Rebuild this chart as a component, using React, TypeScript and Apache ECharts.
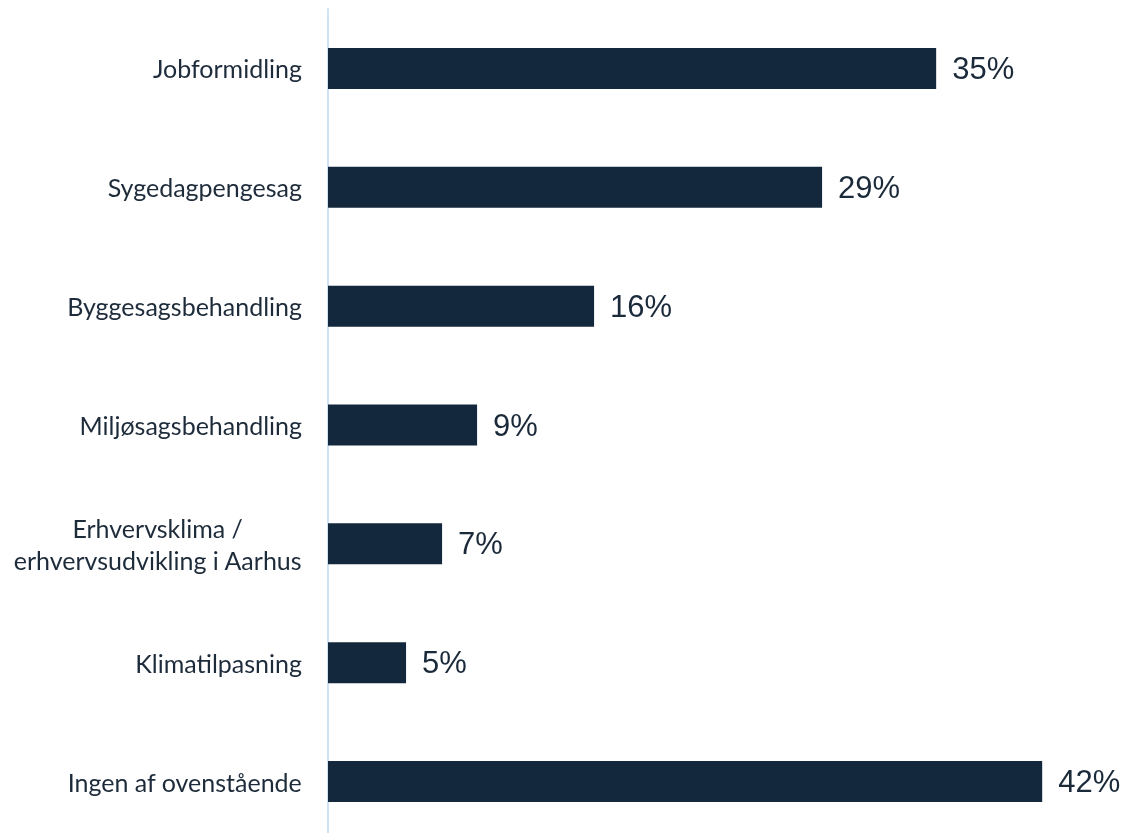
import React, { useEffect, useRef } from "react";
import * as echarts from "echarts";

const categories = [
  "Jobformidling",
  "Sygedagpengesag",
  "Byggesagsbehandling",
  "Miljøsagsbehandling",
  "Erhvervsklima /\nerhvervsudvikling i Aarhus",
  "Klimatilpasning",
  "Ingen af ovenstående",
];
const values = [35.45, 28.8, 15.51, 8.69, 6.65, 4.55, 41.63];

export default function App() {
  const ref = useRef<HTMLDivElement>(null);
  useEffect(() => {
    if (!ref.current) return;
    const chart = echarts.init(ref.current, undefined, { renderer: "svg" });
    chart.setOption({
      animation: false,
      grid: { left: 328, right: 33, top: 9, bottom: 0, containLabel: false },
      xAxis: {
        type: "value",
        min: 0,
        max: 45,
        show: false,
      },
      yAxis: {
        type: "category",
        data: categories,
        inverse: true,
        axisLine: { show: true, lineStyle: { color: "#cfe1f3", width: 2 } },
        axisTick: { show: false },
        splitLine: { show: false },
        axisLabel: {
          margin: 26,
          color: "#1d2b3a",
          fontFamily: "Lato",
          fontSize: 25,
          lineHeight: 32,
          formatter: (v: string) =>
            v
              .split("\n")
              .map((l) => `{c|${l}}`)
              .join("\n"),
          rich: {
            c: {
              align: "center",
              color: "#1d2b3a",
              fontFamily: "Lato",
              fontSize: 25,
              lineHeight: 32,
            },
          },
        },
      },
      series: [
        {
          type: "bar",
          data: values,
          barWidth: 41,
          itemStyle: { color: "#13283d" },
          label: {
            show: true,
            position: "right",
            distance: 16,
            color: "#1b2a3a",
            fontFamily: "Liberation Sans",
            fontSize: 31,
            formatter: (p: any) => `${Math.round(p.value)}%`,
          },
        },
      ],
    });
    return () => chart.dispose();
  }, []);
  return (
    <div
      ref={ref}
      style={{ position: "fixed", left: 0, top: 0, width: 1133, height: 841 }}
    />
  );
}
